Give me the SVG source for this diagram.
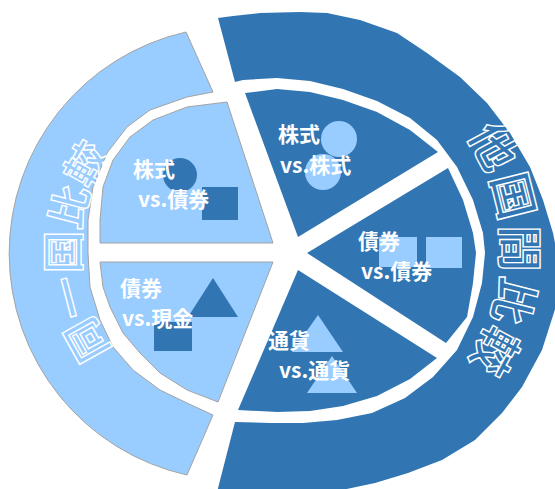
<svg xmlns="http://www.w3.org/2000/svg" width="555" height="489" viewBox="0 0 555 489">
<style>
.light{fill:#99CCFF;stroke:#A3A3A3;stroke-width:1}
.dark{fill:#3176B2}
.markD{fill:#3176B2}
.markL{fill:#99CCFF}
.lbl{font-family:"Noto Sans CJK JP","Noto Sans CJK SC",sans-serif;font-size:21px;font-weight:700;fill:#FFFFFF}
.ring{font-family:"Noto Sans CJK JP","Noto Sans CJK SC",sans-serif;font-weight:700;fill:none;stroke:#FFFFFF;stroke-width:1.4}
</style>
<defs>
<path id="arcL" d="M184.93,405.99 A165,165 0 0 1 184.93,98.01"/>
<path id="arcR" d="M403.5,77.7 A199,199 0 0 1 403.5,422.3"/>
</defs>
<rect width="555" height="489" fill="#FFFFFF"/>

<g id="ring-domestic">
<path class="light" d="M186,32 A227,227 0 0 0 187,475 L213,415 L187,403 L160,390 L133,370 L113,347 L100,320 L90,287 L88,253 L88,220 L93,187 L107,153 L127,127 L150,110 L187,97 L213,92 Z"/>
<text class="ring" font-size="42"><textPath href="#arcL" startOffset="50%" text-anchor="middle">同一国比較</textPath></text>
</g>

<g id="ring-international">
<path class="dark" d="M218,18 L233,16 L260,13 L300,12 L327,13 L360,20 L397,33 L427,53 L460,77 L487,103 L510,133 L530,167 L543,200 L553,233 L560,268 L557,303 L542,350 L522,387 L502,413 L475,440 L442,460 L408,473 L375,483 L342,490 L300,496 L216,496 L235,422 L270,423 L303,423 L337,420 L372,413 L405,398 L433,377 L457,350 L473,317 L482,283 L485,253 L483,233 L473,200 L457,167 L437,140 L410,118 L377,101 L343,89 L310,81 L277,78 L243,80 L235,82 Z"/>
<text class="ring" font-size="46" letter-spacing="3"><textPath href="#arcR" startOffset="50%" text-anchor="middle">他国間比較</textPath></text>
</g>

<g id="wedge-stock-bond">
<path class="light" d="M273,243 L227,102 L187,107 L153,120 L130,137 L113,160 L103,187 L100,220 L100,243 Z"/>
<circle class="markD" cx="180" cy="175" r="17"/>
<rect class="markD" x="202" y="187" width="36" height="33"/>
<text class="lbl" x="133" y="177">株式</text>
<text class="lbl" x="138" y="207">vs.債券</text>
</g>

<g id="wedge-bond-cash">
<path class="light" d="M100,262 L273,262 L218,402 L187,390 L160,373 L140,353 L123,333 L110,307 L103,287 Z"/>
<polygon class="markD" points="213,278 238,317 188,317"/>
<rect class="markD" x="154" y="322" width="38" height="29"/>
<text class="lbl" x="120" y="296">債券</text>
<text class="lbl" x="122" y="326">vs.現金</text>
</g>

<g id="wedge-stock-stock">
<path class="dark" d="M245,93 L277,89 L310,92 L343,100 L377,112 L410,130 L438,152 L298,237 Z"/>
<circle class="markL" cx="339" cy="139" r="18"/>
<circle class="markL" cx="323" cy="172" r="18"/>
<text class="lbl" x="278" y="142">株式</text>
<text class="lbl" x="280" y="173">vs.株式</text>
</g>

<g id="wedge-bond-bond">
<path class="dark" d="M307,253 L448,168 L463,200 L473,233 L476,253 L473,283 L467,317 L446,343 Z"/>
<rect class="markL" x="379" y="237" width="38" height="30"/>
<rect class="markL" x="426" y="237" width="36" height="31"/>
<text class="lbl" x="358" y="249">債券</text>
<text class="lbl" x="361" y="279">vs.債券</text>
</g>

<g id="wedge-fx-fx">
<path class="dark" d="M298,270 L437,358 L410,379 L377,396 L343,406 L310,411 L277,412 L238,410 Z"/>
<polygon class="markL" points="318,315 343,352 292,352"/>
<polygon class="markL" points="332,356 357,393 307,393"/>
<text class="lbl" x="268" y="348">通貨</text>
<text class="lbl" x="279" y="378">vs.通貨</text>
</g>
</svg>
